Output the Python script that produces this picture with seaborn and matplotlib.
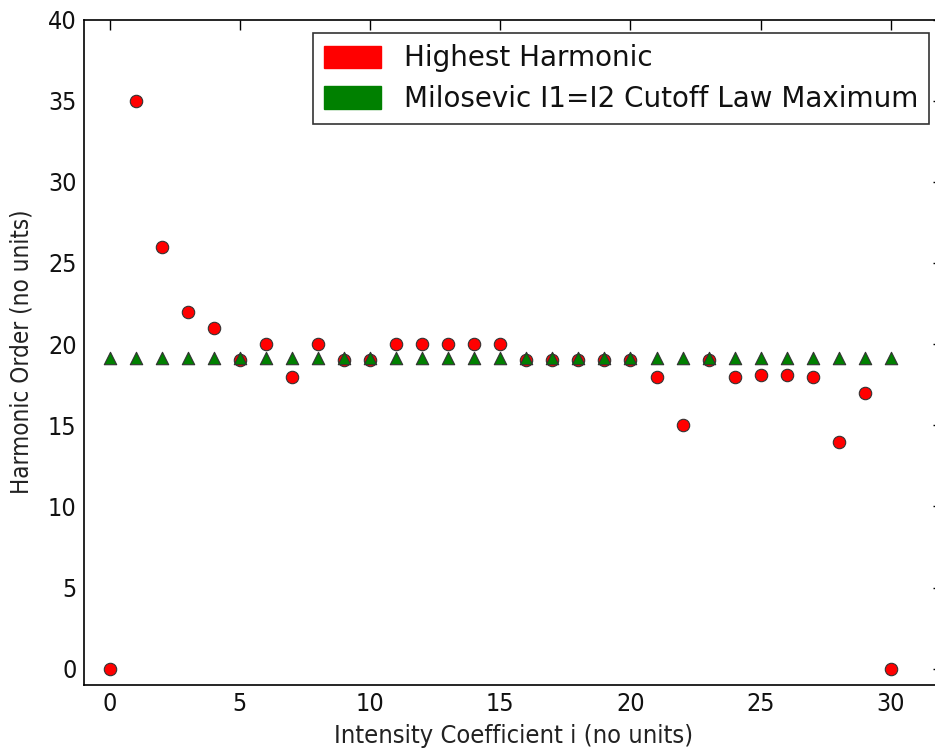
import matplotlib
matplotlib.use("Agg")
import matplotlib.pyplot as plt
import matplotlib.patches as mpatches
import seaborn as sns
import pandas as pd

# Intensity coefficient i and the measured / predicted cutoff harmonic orders
intensity = list(range(31))
highest_harmonic = [0, 35, 26, 22, 21, 19, 20, 18, 20, 19, 19, 20, 20, 20, 20, 20,
                    19, 19, 19, 19, 19, 18, 15, 19, 18, 18.1, 18.1, 18, 14, 17, 0]
milosevic_max = [19.15] * 31

labels = ["Highest Harmonic", "Milosevic I1=I2 Cutoff Law Maximum"]

df = pd.DataFrame({"i": intensity, "hh": highest_harmonic, "mm": milosevic_max})

sns.set_style("white")
plt.rcParams["font.family"] = ["DejaVu Sans"]

fig = plt.figure(figsize=(9.35, 7.54), dpi=100)
ax = fig.add_axes([83.5 / 935, 69 / 754, (943 - 83.5) / 935, (734.5 - 69) / 754])

sns.scatterplot(data=df, x="i", y="hh", ax=ax, marker="o", s=80, color="red",
                edgecolor="#333333", linewidth=0.8, zorder=3)
sns.scatterplot(data=df, x="i", y="mm", ax=ax, marker="^", s=80, color="green",
                edgecolor="#333333", linewidth=0.8, zorder=4)

ax.set_xlim(-1, 32)
ax.set_ylim(-1, 40)
ax.set_xticks(range(0, 31, 5))
ax.set_yticks(range(0, 41, 5))
ax.tick_params(direction="in", length=7, width=1, top=True, right=True,
               colors="black", pad=5)
for lab in ax.get_xticklabels() + ax.get_yticklabels():
    lab.set_fontsize(18)
    lab.set_fontstretch("condensed")
    lab.set_color("#111111")
for sp in ax.spines.values():
    sp.set_color("black")
    sp.set_linewidth(1.2)

ax.set_xlabel("Intensity Coefficient i (no units)", fontsize=18.3,
              fontstretch="condensed", color="#222222", labelpad=6)
ax.set_ylabel("Harmonic Order (no units)", fontsize=17.4,
              fontstretch="condensed", color="#222222", labelpad=10)

handles = [mpatches.Patch(color="red", label=labels[0]),
           mpatches.Patch(color="green", label=labels[1])]
leg = ax.legend(handles=handles, loc="upper right", fontsize=20, frameon=True,
                fancybox=False, edgecolor="black", handlelength=2.05,
                handleheight=0.86, handletextpad=0.8, labelspacing=0.45)
leg.get_frame().set_linewidth(1.2)
for t in leg.get_texts():
    t.set_color("#111111")

fig.savefig("out.png", dpi=100)
